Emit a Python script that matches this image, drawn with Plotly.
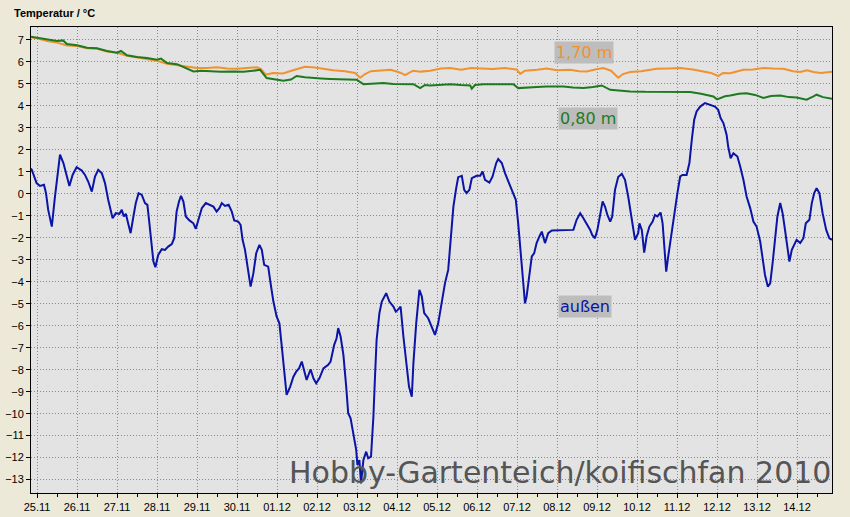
import plotly.graph_objects as go

# ---- data (x = days since 25.11.2010 00:00) ----
day_labels = ["25.11", "26.11", "27.11", "28.11", "29.11", "30.11", "01.12", "02.12",
              "03.12", "04.12", "05.12", "06.12", "07.12", "08.12", "09.12", "10.12",
              "11.12", "12.12", "13.12", "14.12"]
y_ticks = list(range(-13, 8))

x_170 = [-0.15, 0.0, 0.25, 0.5, 0.75, 1.0, 1.25, 1.5, 1.75, 2.0, 2.25, 2.5, 2.75, 3.0, 3.25,
         3.5, 3.75, 4.0, 4.25, 4.5, 4.75, 5.0, 5.25, 5.5, 5.6, 5.72, 5.9, 6.15, 6.4, 6.7,
         6.95, 7.2, 7.4, 7.7, 7.95, 8.08, 8.2, 8.35, 8.6, 8.85, 9.1, 9.2, 9.4, 9.6, 9.83,
         10.1, 10.33, 10.6, 10.85, 11.1, 11.4, 11.7, 11.99, 12.08, 12.2, 12.5, 12.74, 13.0,
         13.33, 13.55, 13.74, 13.95, 14.16, 14.35, 14.53, 14.65, 14.83, 15.1, 15.49, 15.8,
         16.08, 16.4, 16.66, 16.85, 17.03, 17.15, 17.33, 17.66, 17.9, 18.16, 18.4, 18.66,
         18.9, 19.08, 19.25, 19.41, 19.6, 19.875]
y_170 = [7.12, 7.08, 6.95, 6.88, 6.75, 6.72, 6.62, 6.6, 6.48, 6.42, 6.28, 6.2, 6.15, 6.05, 5.92,
         5.85, 5.78, 5.72, 5.73, 5.76, 5.7, 5.69, 5.72, 5.76, 5.68, 5.42, 5.5, 5.48, 5.62, 5.78,
         5.75, 5.66, 5.62, 5.58, 5.5, 5.28, 5.45, 5.58, 5.6, 5.64, 5.5, 5.4, 5.6, 5.56, 5.6,
         5.7, 5.72, 5.65, 5.72, 5.7, 5.68, 5.72, 5.66, 5.46, 5.6, 5.64, 5.7, 5.62,
         5.64, 5.58, 5.57, 5.66, 5.72, 5.6, 5.28, 5.45, 5.54, 5.58, 5.69, 5.7,
         5.72, 5.66, 5.57, 5.5, 5.36, 5.5, 5.49, 5.64, 5.66, 5.72, 5.7, 5.69,
         5.58, 5.54, 5.62, 5.54, 5.5, 5.56]

x_080 = [-0.15, 0.0, 0.25, 0.5, 0.65, 0.75, 1.0, 1.25, 1.5, 1.75, 2.0, 2.1, 2.25, 2.5, 2.75,
         3.0, 3.1, 3.25, 3.5, 3.75, 3.91, 4.1, 4.33, 4.6, 4.9, 5.16, 5.4, 5.58, 5.74, 5.95,
         6.16, 6.35, 6.49, 6.7, 6.91, 7.1, 7.33, 7.6, 7.99, 8.16, 8.4, 8.66, 8.9, 9.2, 9.41,
         9.58, 9.7, 9.83, 10.1, 10.33, 10.6, 10.83, 10.87, 10.95, 11.16, 11.5, 11.91, 12.03,
         12.3, 12.5, 12.74, 12.95, 13.16, 13.4, 13.66, 13.9, 14.12, 14.33, 14.6, 14.83, 15.2,
         15.66, 16.0, 16.33, 16.6, 16.91, 17.0, 17.08, 17.2, 17.33, 17.55, 17.74, 17.95,
         18.16, 18.35, 18.58, 18.8, 18.99, 19.24, 19.4, 19.49, 19.65, 19.875]
y_080 = [7.15, 7.1, 7.0, 6.95, 6.98, 6.82, 6.76, 6.65, 6.62, 6.5, 6.42, 6.5, 6.3, 6.22, 6.18,
         6.1, 6.15, 5.95, 5.9, 5.7, 5.57, 5.6, 5.57, 5.55, 5.56, 5.55, 5.6, 5.64, 5.27, 5.2,
         5.14, 5.2, 5.36, 5.3, 5.29, 5.25, 5.23, 5.2, 5.19, 4.99, 5.0, 5.04, 5.0, 4.98, 4.99,
         4.81, 4.95, 4.93, 4.97, 4.99, 4.95, 4.93, 4.78, 4.95, 4.99, 4.98, 4.99, 4.81,
         4.85, 4.86, 4.88, 4.88, 4.88, 4.84, 4.81, 4.86, 4.93, 4.73, 4.68, 4.66, 4.64,
         4.63, 4.62, 4.63, 4.55, 4.43, 4.3, 4.36, 4.44, 4.47, 4.55, 4.58, 4.5,
         4.36, 4.45, 4.47, 4.4, 4.38, 4.28, 4.42, 4.51, 4.4, 4.32]

x_aussen = [-0.15, -0.13, -0.01, 0.075, 0.175, 0.225, 0.28, 0.37, 0.45, 0.51, 0.575, 0.66, 0.74,
            0.81, 0.89, 0.99, 1.12, 1.2, 1.28, 1.37, 1.45, 1.53, 1.62, 1.7, 1.78, 1.89, 1.97,
            2.06, 2.12, 2.17, 2.22, 2.28, 2.34, 2.41, 2.47, 2.54, 2.62, 2.7, 2.76, 2.81, 2.87,
            2.91, 2.96, 3.03, 3.12, 3.2, 3.28, 3.37, 3.43, 3.49, 3.55, 3.6, 3.66, 3.72, 3.81,
            3.91, 3.97, 4.03, 4.12, 4.22, 4.33, 4.41, 4.49, 4.56, 4.62, 4.7, 4.79, 4.87, 4.93,
            5.03, 5.09, 5.14, 5.2, 5.26, 5.34, 5.41, 5.48, 5.56, 5.62, 5.68, 5.78, 5.84, 5.91,
            5.99, 6.06, 6.12, 6.18, 6.24, 6.33, 6.41, 6.48, 6.55, 6.62, 6.68, 6.74, 6.84, 6.91,
            6.98, 7.06, 7.16, 7.28, 7.34, 7.43, 7.49, 7.53, 7.59, 7.66, 7.73, 7.78, 7.84, 7.91,
            7.98, 8.01, 8.06, 8.1, 8.16, 8.23, 8.28, 8.35, 8.41, 8.45, 8.49, 8.56, 8.62, 8.73,
            8.81, 8.91, 8.97, 9.02, 9.09, 9.16, 9.24, 9.3, 9.37, 9.41, 9.48, 9.56, 9.62, 9.68,
            9.78, 9.87, 9.95, 10.03, 10.12, 10.2, 10.28, 10.34, 10.41, 10.48, 10.53, 10.62,
            10.68, 10.74, 10.81, 10.87, 10.99, 11.08, 11.14, 11.2, 11.31, 11.39, 11.48, 11.53,
            11.62, 11.7, 11.78, 11.89, 11.97, 12.03, 12.09, 12.16, 12.2, 12.24, 12.3, 12.37,
            12.43, 12.49, 12.56, 12.62, 12.7, 12.78, 12.87, 13.08, 13.24, 13.41, 13.49, 13.58,
            13.66, 13.74, 13.83, 13.88, 13.95, 14.01, 14.08, 14.14, 14.2, 14.26, 14.33, 14.38,
            14.45, 14.53, 14.62, 14.7, 14.78, 14.87, 14.95, 15.03, 15.06, 15.12, 15.18, 15.24,
            15.31, 15.39, 15.45, 15.51, 15.59, 15.64, 15.68, 15.73, 15.78, 15.87, 15.95, 16.01,
            16.08, 16.14, 16.24, 16.31, 16.37, 16.43, 16.49, 16.58, 16.7, 16.83, 16.95, 17.03,
            17.09, 17.16, 17.24, 17.28, 17.34, 17.41, 17.51, 17.58, 17.66, 17.74, 17.83, 17.91,
            17.99, 18.08, 18.14, 18.2, 18.27, 18.33, 18.39, 18.45, 18.51, 18.58, 18.64, 18.7,
            18.76, 18.81, 18.87, 18.93, 18.99, 19.08, 19.16, 19.22, 19.31, 19.37, 19.43, 19.49,
            19.56, 19.64, 19.73, 19.81, 19.875]
y_aussen = [1.15, 1.09, 0.49, 0.36, 0.41, 0.03, -0.73, -1.49, -0.12, 0.79, 1.78, 1.40, 0.79,
            0.36, 0.86, 1.21, 1.06, 0.86, 0.56, 0.10, 0.79, 1.09, 0.94, 0.49, -0.27, -1.11, -0.88,
            -0.91, -0.73, -1.03, -0.91, -1.34, -1.79, -1.03, -0.42, 0.03, -0.05, -0.42, -0.5, -1.34, -2.55,
            -3.08, -3.34, -2.78, -2.52, -2.55, -2.40, -2.29, -2.02, -0.81, -0.35, -0.09, -0.35, -1.03, -1.21,
            -1.34, -1.59, -1.18, -0.65, -0.42, -0.5, -0.58, -0.81, -0.65, -0.42, -0.55, -0.5, -0.81, -1.21,
            -1.26, -1.41, -2.09, -2.55, -3.31, -4.22, -3.61, -2.70, -2.32, -2.55, -3.23, -3.31, -4.07, -4.90,
            -5.58, -5.89, -6.95, -8.16, -9.15, -8.77, -8.32, -8.09, -7.94, -7.63, -8.09, -8.47, -7.98, -8.39,
            -8.62, -8.39, -7.94, -7.78, -7.63, -6.87, -6.57, -6.11, -6.49, -7.33, -8.77, -9.98, -10.21, -10.89,
            -11.65, -12.33, -12.11, -13.17, -12.11, -11.73, -12.03, -11.96, -10.14, -8.32, -6.65, -5.43, -4.90, -4.52,
            -4.90, -5.13, -5.36, -5.28, -5.13, -6.49, -7.71, -8.77, -9.23, -7.71, -5.89, -4.37, -4.67, -5.43,
            -5.66, -6.04, -6.42, -5.89, -4.98, -4.06, -3.46, -1.94, -0.58, 0.26, 0.76, 0.82,
            0.18, 0.03, 0.18, 0.71, 0.82, 0.82, 1.02, 0.64, 0.51, 0.79, 1.40, 1.58,
            1.40, 0.94, 0.56, 0.03, -0.27, -1.34, -2.70, -3.91, -4.98, -4.67, -3.76, -2.85,
            -2.70, -2.24, -1.94, -1.72, -2.24, -1.79, -1.67, -1.67, -1.67, -1.64, -1.18, -0.88,
            -1.11, -1.34, -1.64, -1.87, -2.02, -1.64, -1.03, -0.35, -0.58, -0.96, -1.26, -1.03,
            0.18, 0.76, 0.91, 0.64, -0.12, -1.18, -2.09, -1.79, -1.34, -1.64, -2.67, -1.94,
            -1.49, -1.26, -0.96, -1.03, -0.85, -1.34, -2.40, -3.54, -2.85, -1.64, -0.58, 0.03,
            0.79, 0.86, 0.86, 1.40, 2.46, 3.37, 3.75, 3.97, 4.13, 4.05, 3.97, 3.82,
            3.45, 3.22, 2.69, 2.15, 1.62, 1.85, 1.70, 1.24, 0.64, -0.12, -0.65, -1.26,
            -1.49, -2.17, -3.00, -3.69, -4.22, -4.07, -3.15, -2.09, -1.03, -0.42, -0.88, -1.64,
            -2.40, -3.08, -2.55, -2.32, -2.09, -2.24, -2.02, -1.34, -1.18, -0.42, 0.03, 0.26,
            0.03, -0.88, -1.64, -2.02, -2.09]

series_names = ["1,70 m", "0,80 m", "außen"]
series_colors = ["#F0922E", "#1E7A1E", "#0A14A6"]

fig = go.Figure()
fig.add_trace(go.Scatter(x=x_170, y=y_170, mode="lines", name=series_names[0],
                         line=dict(color=series_colors[0], width=2)))
fig.add_trace(go.Scatter(x=x_080, y=y_080, mode="lines", name=series_names[1],
                         line=dict(color=series_colors[1], width=2)))
fig.add_trace(go.Scatter(x=x_aussen, y=y_aussen, mode="lines", name=series_names[2],
                         line=dict(color=series_colors[2], width=2)))

label_pos = [(13.675, 6.42), (13.775, 3.41), (13.7, -5.14)]
for name, col, (lx, ly) in zip(series_names, series_colors, label_pos):
    fig.add_annotation(x=lx, y=ly, text=name, showarrow=False,
                       font=dict(family="DejaVu Sans", size=16, color=col),
                       bgcolor="#BDBDBD", borderpad=1)

fig.add_annotation(xref="paper", yref="paper", x=-0.024, y=1.03, xanchor="left", yanchor="middle",
                   text="<b>Temperatur / °C</b>", showarrow=False,
                   font=dict(family="Liberation Sans", size=11, color="#000000"))

fig.add_annotation(xref="paper", yref="paper", x=1.001, y=0.045, xanchor="right", yanchor="middle",
                   text="Hobby-Gartenteich/koifischfan 2010", showarrow=False,
                   font=dict(family="DejaVu Sans", size=30, color="#555555"))

fig.update_layout(
    width=850, height=517,
    margin=dict(l=31, r=18, t=27, b=24, autoexpand=False),
    paper_bgcolor="#ECE9D8",
    plot_bgcolor="#E3E3E3",
    showlegend=False,
    font=dict(family="Liberation Sans", size=11, color="#000000"),
)
fig.update_xaxes(
    range=[-0.15, 19.875], automargin=False,
    tickmode="array", tickvals=list(range(len(day_labels))), ticktext=day_labels,
    ticks="outside", ticklen=4, tickcolor="#000000",
    minor=dict(dtick=0.5, tick0=0, ticks="outside", ticklen=3, tickcolor="#000000", showgrid=False),
    showgrid=True, gridcolor="#8A8A8A", griddash="1px,2px", gridwidth=1,
    showline=True, linecolor="#000000", linewidth=1, mirror=True,
    zeroline=False,
)
fig.update_yaxes(
    range=[-13.61, 7.59], automargin=False,
    tickmode="array", tickvals=y_ticks,
    ticks="outside", ticklen=4, tickcolor="#000000",
    showgrid=True, gridcolor="#8A8A8A", griddash="1px,2px", gridwidth=1,
    showline=True, linecolor="#000000", linewidth=1, mirror=True,
    zeroline=False,
)

fig.write_html("out.html", config={"displayModeBar": False},
               post_script="document.body.style.margin='0';document.body.style.background='#ECE9D8';")
